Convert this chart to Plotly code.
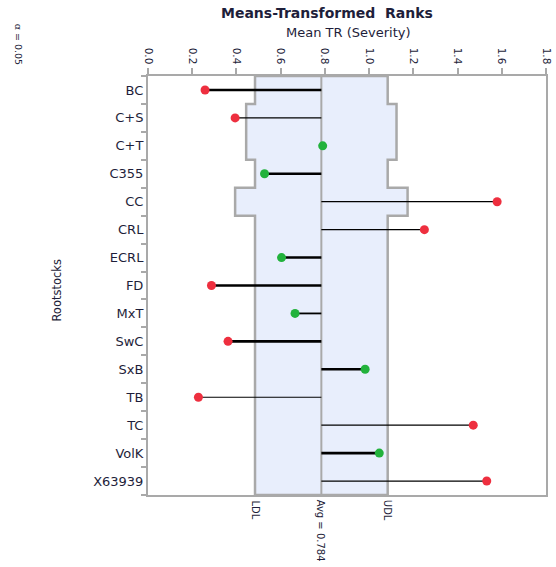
import plotly.graph_objects as go

# Rootstock groups and their mean transformed ranks (severity)
rootstocks = ["BC", "C+S", "C+T", "C355", "CC", "CRL", "ECRL", "FD", "MxT",
              "SwC", "SxB", "TB", "TC", "VolK", "X63939"]
mean_tr = [0.258, 0.394, 0.790, 0.527, 1.579, 1.250, 0.604, 0.287, 0.665,
           0.362, 0.982, 0.228, 1.471, 1.046, 1.532]
# Decision limits per group (alpha = 0.05)
ldl = [0.484, 0.444, 0.444, 0.484, 0.394, 0.484, 0.484, 0.484, 0.484,
       0.484, 0.484, 0.484, 0.484, 0.484, 0.484]
udl = [1.084, 1.124, 1.124, 1.084, 1.174, 1.084, 1.084, 1.084, 1.084,
       1.084, 1.084, 1.084, 1.084, 1.084, 1.084]
avg = 0.784
x_ticks = [0.0, 0.2, 0.4, 0.6, 0.8, 1.0, 1.2, 1.4, 1.6, 1.8]

# needle widths
needle_w = [2.6, 1.2, 1.2, 2.6, 1.2, 1.2, 2.6, 2.6, 1.8, 2.6, 2.6, 1.2, 1.4, 2.6, 1.2]

RED = "#EE2F3F"
GREEN = "#22B23C"
TXT = "#1E1E3A"
GRAY = "#A9A9A9"
FONT = "DejaVu Sans"

W, H = 556, 567
L, R, T, B = 148, 3, 76, 72
pw, ph = W - L - R, H - T - B

n = len(rootstocks)
ys = list(range(n))

fig = go.Figure()

# stepped decision-limit band: down the lower limits, back up the upper limits
path = f"M {ldl[0]},{-0.5}"
for i in range(n):
    path += f" L {ldl[i]},{i - 0.5} L {ldl[i]},{i + 0.5}"
path += f" L {udl[n - 1]},{n - 0.5}"
for i in reversed(range(n)):
    path += f" L {udl[i]},{i + 0.5} L {udl[i]},{i - 0.5}"
path += " Z"
fig.add_shape(type="path", path=path, xref="x", yref="y",
              fillcolor="#E8EEFC", line=dict(color=GRAY, width=2.5), layer="below")
# centre line at the overall average
fig.add_shape(type="line", x0=avg, x1=avg, y0=-0.5, y1=n - 0.5, xref="x", yref="y",
              line=dict(color=GRAY, width=2), layer="below")

# needles from the average to each group mean
for i in range(n):
    fig.add_trace(go.Scatter(x=[avg, mean_tr[i]], y=[ys[i], ys[i]], mode="lines",
                             line=dict(color="black", width=needle_w[i]),
                             hoverinfo="skip", showlegend=False))

colors = [RED if (m < lo or m > hi) else GREEN for m, lo, hi in zip(mean_tr, ldl, udl)]
fig.add_trace(go.Scatter(x=mean_tr, y=ys, mode="markers",
                         marker=dict(color=colors, size=9, line=dict(width=0)),
                         showlegend=False))

fig.update_layout(
    width=W, height=H,
    margin=dict(l=L, r=R, t=T, b=B),
    paper_bgcolor="white", plot_bgcolor="white",
    font=dict(family=FONT, size=12, color=TXT),
    showlegend=False,
    xaxis=dict(range=[0, 1.8], side="top", tickvals=x_ticks,
               ticktext=[f"{v:.1f}" for v in x_ticks], tickangle=90,
               ticks="outside", ticklen=6, tickcolor=GRAY, tickwidth=1.5,
               ticklabeloverflow="allow",
               showgrid=False, zeroline=False, showline=True, linecolor=GRAY,
               linewidth=2, mirror=True, tickfont=dict(size=10.5, color=TXT)),
    yaxis=dict(range=[n - 0.5, -0.5], tickvals=ys, ticktext=rootstocks,
               ticks="", ticklen=0, showgrid=False, zeroline=False,
               showline=True, linecolor=GRAY, linewidth=2, mirror=True,
               tickfont=dict(size=13, color=TXT),
               minor=dict(tickvals=[i + 0.5 for i in range(-1, n)], ticks="outside",
                          ticklen=5, tickcolor=GRAY, tickwidth=1.5, showgrid=False)),
)


def px_x(px):
    return (px - L) / pw


def px_y(py):
    return (H - B - py) / ph


fig.add_annotation(text="<b>Means-Transformed\u00a0 Ranks</b>", xref="paper", yref="paper",
                   x=px_x(330), y=px_y(13), showarrow=False,
                   font=dict(size=14, color=TXT), xanchor="center", yanchor="middle")
fig.add_annotation(text="Mean TR (Severity)", xref="paper", yref="paper",
                   x=px_x(352), y=px_y(33), showarrow=False,
                   font=dict(size=13, color=TXT), xanchor="center", yanchor="middle")
fig.add_annotation(text="α = 0.05", xref="paper", yref="paper",
                   x=px_x(16), y=px_y(44), showarrow=False,
                   textangle=90, font=dict(size=9.5, color=TXT),
                   xanchor="center", yanchor="middle")
fig.add_annotation(text="Rootstocks", xref="paper", yref="paper",
                   x=px_x(55), y=px_y(290), showarrow=False,
                   textangle=-90, font=dict(size=11.5, color=TXT),
                   xanchor="center", yanchor="middle")
# limit labels under the plot
for val, lab in [(ldl[-1], "LDL"), (avg, f"Avg = {avg}"), (udl[-1], "UDL")]:
    fig.add_annotation(text=lab, x=val, xref="x", y=0, yref="paper", yshift=-3,
                       showarrow=False, textangle=90, xanchor="center", yanchor="top",
                       font=dict(size=10, color=TXT))

fig.write_html("out.html")
